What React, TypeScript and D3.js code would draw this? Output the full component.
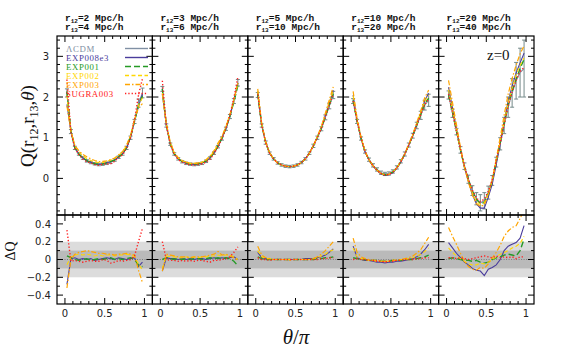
import React, { useEffect, useRef } from 'react';
import * as d3 from 'd3';

// theta/pi bin centres
const theta = [0.025, 0.075, 0.125, 0.175, 0.225, 0.275, 0.325, 0.375, 0.425, 0.475,
  0.525, 0.575, 0.625, 0.675, 0.725, 0.775, 0.825, 0.875, 0.925, 0.975];

const r12Labels = ['2', '3', '5', '10', '20'];
const r13Labels = ['4', '6', '10', '20', '40'];

// LCDM Q(theta) per panel
const qLCDM = [
  [2.1, 1.15, 0.75, 0.6, 0.5, 0.43, 0.39, 0.36, 0.34, 0.35, 0.37, 0.4, 0.45, 0.52, 0.6, 0.75, 1.0, 1.4, 1.85, 2.1],
  [2.2, 1.3, 0.84, 0.6, 0.48, 0.41, 0.37, 0.35, 0.34, 0.35, 0.37, 0.42, 0.5, 0.62, 0.78, 0.98, 1.22, 1.52, 1.9, 2.35],
  [2.05, 1.3, 0.88, 0.62, 0.48, 0.38, 0.33, 0.3, 0.29, 0.3, 0.33, 0.39, 0.48, 0.62, 0.8, 1.0, 1.22, 1.5, 1.78, 2.05],
  [1.9, 1.4, 0.98, 0.66, 0.46, 0.32, 0.22, 0.14, 0.11, 0.12, 0.17, 0.27, 0.42, 0.6, 0.82, 1.05, 1.3, 1.55, 1.8, 1.92],
  [2.05, 1.6, 1.15, 0.7, 0.3, -0.02, -0.3, -0.5, -0.6, -0.55, -0.35, -0.05, 0.4, 0.85, 1.3, 1.75, 2.1, 2.4, 2.6, 2.7],
];

const qErr = [
  [0.1, 0.05, 0.04, 0.03, 0.03, 0.03, 0.03, 0.03, 0.03, 0.03, 0.03, 0.03, 0.03, 0.03, 0.03, 0.04, 0.04, 0.05, 0.1, 0.12],
  [0.06, 0.04, 0.03, 0.03, 0.03, 0.03, 0.03, 0.03, 0.03, 0.03, 0.03, 0.03, 0.03, 0.03, 0.03, 0.04, 0.04, 0.05, 0.06, 0.08],
  [0.06, 0.04, 0.04, 0.03, 0.03, 0.03, 0.03, 0.03, 0.03, 0.03, 0.03, 0.03, 0.03, 0.03, 0.04, 0.04, 0.05, 0.06, 0.07, 0.09],
  [0.06, 0.05, 0.04, 0.04, 0.04, 0.04, 0.04, 0.04, 0.04, 0.04, 0.04, 0.04, 0.04, 0.05, 0.05, 0.06, 0.08, 0.1, 0.12, 0.15],
  [0.1, 0.1, 0.08, 0.08, 0.08, 0.1, 0.12, 0.15, 0.2, 0.2, 0.16, 0.12, 0.12, 0.15, 0.2, 0.25, 0.35, 0.45, 0.6, 0.7],
];

// Delta Q (model - LCDM) per panel
const dqEXP008e3 = [
  [-0.28, 0.01, 0.02, 0.0, 0.01, 0.0, 0.01, -0.01, 0.0, 0.01, 0.02, 0.01, 0.0, 0.02, 0.01, 0.0, 0.01, 0.02, -0.08, -0.03],
  [-0.13, 0.02, 0.01, 0.01, 0.0, 0.01, 0.0, 0.01, 0.0, 0.01, 0.01, 0.0, 0.01, 0.02, 0.01, 0.02, 0.01, 0.02, 0.03, 0.0],
  [0.08, 0.02, 0.01, 0.0, 0.0, 0.0, 0.0, 0.0, 0.0, 0.0, 0.0, 0.0, 0.01, 0.01, 0.01, 0.02, 0.03, 0.05, 0.08, 0.12],
  [0.15, 0.02, 0.0, -0.01, -0.01, -0.02, -0.03, -0.03, -0.04, -0.03, -0.03, -0.02, -0.02, -0.01, 0.0, 0.01, 0.03, 0.06, 0.11, 0.17],
  [0.19, 0.13, 0.07, 0.02, -0.03, -0.06, -0.1, -0.12, -0.13, -0.18, -0.11, -0.09, -0.06, 0.0, 0.1, 0.15, 0.17, 0.19, 0.24, 0.38],
];
const dqEXP001 = [
  [0.04, 0.02, 0.0, -0.01, 0.0, 0.01, -0.01, 0.0, 0.01, 0.0, 0.01, 0.02, 0.0, 0.01, 0.0, 0.01, 0.02, 0.0, -0.06, -0.08],
  [0.0, 0.02, 0.01, 0.0, 0.01, 0.0, 0.01, 0.0, 0.01, 0.01, 0.0, 0.01, 0.02, 0.01, 0.02, 0.01, 0.02, 0.01, -0.02, -0.07],
  [0.03, 0.01, 0.0, 0.0, 0.0, 0.0, 0.0, 0.0, 0.0, 0.0, 0.0, 0.0, 0.0, 0.0, 0.0, 0.01, 0.01, 0.02, 0.02, 0.03],
  [0.02, 0.01, 0.0, 0.0, -0.01, -0.01, -0.01, -0.02, -0.02, -0.02, -0.01, -0.01, -0.01, 0.0, 0.0, 0.0, 0.01, 0.02, 0.03, 0.05],
  [0.01, 0.02, 0.01, 0.0, -0.01, -0.01, -0.02, -0.01, -0.03, -0.04, -0.03, 0.0, 0.02, 0.03, 0.05, 0.06, 0.05, 0.04, 0.1, 0.23],
];
const dqEXP002 = [
  [-0.06, 0.03, 0.05, 0.06, 0.05, 0.06, 0.05, 0.04, 0.05, 0.04, 0.05, 0.05, 0.04, 0.05, 0.05, 0.06, 0.05, 0.03, -0.05, -0.12],
  [-0.1, 0.04, 0.03, 0.03, 0.02, 0.02, 0.03, 0.02, 0.03, 0.02, 0.03, 0.03, 0.04, 0.04, 0.05, 0.04, 0.05, 0.05, 0.03, 0.0],
  [0.1, 0.03, 0.01, 0.01, 0.0, 0.0, 0.0, 0.0, 0.0, 0.0, 0.0, 0.0, 0.0, 0.0, 0.01, 0.02, 0.04, 0.06, 0.09, 0.11],
  [0.13, 0.03, 0.01, 0.0, -0.01, -0.01, -0.02, -0.02, -0.02, -0.02, -0.01, -0.01, 0.0, 0.0, 0.01, 0.02, 0.04, 0.06, 0.09, 0.13],
  [0.13, 0.08, 0.04, 0.01, -0.02, -0.05, -0.06, -0.06, -0.04, -0.05, -0.03, 0.0, 0.03, 0.06, 0.08, 0.1, 0.13, 0.15, 0.18, 0.26],
];
const dqEXP003 = [
  [-0.32, 0.0, 0.06, 0.08, 0.09, 0.1, 0.09, 0.08, 0.07, 0.07, 0.06, 0.06, 0.05, 0.06, 0.06, 0.07, 0.06, 0.05, -0.12, -0.26],
  [-0.13, 0.06, 0.05, 0.04, 0.03, 0.03, 0.03, 0.02, 0.03, 0.03, 0.03, 0.04, 0.05, 0.06, 0.09, 0.05, 0.06, 0.04, 0.02, -0.01],
  [0.15, 0.05, 0.02, 0.01, 0.0, 0.0, 0.0, 0.0, -0.01, 0.0, 0.0, 0.0, 0.0, 0.0, 0.01, 0.03, 0.06, 0.1, 0.15, 0.2],
  [0.24, 0.08, 0.03, 0.01, 0.0, -0.01, -0.01, -0.02, -0.02, -0.02, -0.01, -0.01, 0.0, 0.01, 0.02, 0.04, 0.07, 0.11, 0.18, 0.25],
  [0.36, 0.26, 0.17, 0.07, -0.02, -0.08, -0.11, -0.12, -0.09, -0.1, -0.05, 0.02, 0.08, 0.16, 0.26, 0.32, 0.36, 0.38, 0.46, 0.56],
];
const dqSUGRA003 = [
  [0.33, -0.02, -0.01, -0.02, -0.03, -0.02, -0.01, -0.02, -0.02, 0.0, -0.01, -0.04, -0.03, -0.01, -0.02, -0.01, 0.0, 0.04, 0.2, 0.35],
  [0.2, 0.0, -0.01, -0.01, -0.02, -0.01, -0.02, -0.01, -0.02, -0.01, -0.01, -0.02, -0.03, -0.01, -0.01, 0.0, 0.01, 0.03, 0.08, 0.14],
  [0.02, 0.0, 0.0, -0.01, 0.0, 0.0, 0.0, 0.0, 0.0, 0.0, 0.0, 0.0, 0.0, 0.0, 0.0, 0.0, 0.01, 0.01, 0.02, 0.02],
  [0.0, 0.01, 0.0, 0.0, -0.01, -0.01, -0.02, -0.02, -0.03, -0.02, -0.02, -0.01, -0.01, 0.0, 0.0, 0.0, 0.01, 0.01, 0.02, 0.02],
  [0.02, 0.02, 0.01, 0.02, 0.01, 0.0, 0.01, 0.02, 0.03, 0.04, 0.03, 0.02, 0.04, 0.02, 0.03, 0.02, 0.03, 0.01, 0.03, 0.03],
];

const modelNames = ['EXP008e3', 'EXP001', 'EXP002', 'EXP003', 'SUGRA003'];
const modelSeries = [dqEXP008e3, dqEXP001, dqEXP002, dqEXP003, dqSUGRA003];
const modelColors = ['#4a3c9c', '#259a25', '#ffd700', '#ffa500', '#ff2020'];
const modelDash = [null, '6,3', '4,2.5', '5,2,1.5,2', '1.3,2'];
const modelWidth = [1.1, 1.4, 1.1, 1.2, 1.4];
const lcdmColor = '#8090a4';
const errColor = '#758a8a';

const App = () => {
  const svgRef = useRef(null);

  useEffect(() => {
    const svg = d3.select(svgRef.current);
    svg.selectAll('*').remove();

    const left = 57;
    const panelW = 95.4;
    const topY = 36, midY = 215, botY = 304;
    const serif = 'Liberation Serif, Times New Roman, serif';
    const tickFont = 'DejaVu Sans, sans-serif';

    const yTop = d3.scaleLinear().domain([-0.9, 3.5]).range([midY, topY]);
    const yBot = d3.scaleLinear().domain([-0.5, 0.5]).range([botY, midY]);

    const xMinor = d3.range(0, 11).map((i) => i * 0.1);
    const yTopMinor = d3.range(-4, 18).map((i) => i * 0.2);
    const yBotMinor = d3.range(-4, 5).map((i) => i * 0.1);
    const isInt = (v, s) => Math.abs(v / s - Math.round(v / s)) < 1e-6;

    const defs = svg.append('defs');

    r12Labels.forEach((lab, p) => {
      const x0 = left + p * panelW;
      const x1 = x0 + panelW;
      const x = d3.scaleLinear().domain([-0.1, 1.1]).range([x0, x1]);
      const g = svg.append('g');

      defs.append('clipPath').attr('id', `ct${p}`).append('rect')
        .attr('x', x0).attr('y', topY).attr('width', panelW).attr('height', midY - topY);
      defs.append('clipPath').attr('id', `cb${p}`).append('rect')
        .attr('x', x0).attr('y', midY).attr('width', panelW).attr('height', botY - midY);

      // bottom panel bands
      const bb = g.append('g').attr('clip-path', `url(#cb${p})`);
      bb.append('rect').attr('x', x0).attr('width', panelW)
        .attr('y', yBot(0.2)).attr('height', yBot(-0.2) - yBot(0.2)).attr('fill', '#dcdcdc');
      bb.append('rect').attr('x', x0).attr('width', panelW)
        .attr('y', yBot(0.1)).attr('height', yBot(-0.1) - yBot(0.1)).attr('fill', '#bababa');
      bb.append('line').attr('x1', x0).attr('x2', x1).attr('y1', yBot(0)).attr('y2', yBot(0))
        .attr('stroke', '#777').attr('stroke-width', 0.9).attr('stroke-dasharray', '1,1.5');

      const lineB = (arr) => d3.line().x((d, i) => x(theta[i])).y((d) => yBot(d))(arr);
      modelSeries.forEach((ser, m) => {
        bb.append('path').attr('d', lineB(ser[p])).attr('fill', 'none')
          .attr('stroke', modelColors[m]).attr('stroke-width', modelWidth[m])
          .attr('stroke-dasharray', modelDash[m]);
      });

      // top panel
      const tb = g.append('g').attr('clip-path', `url(#ct${p})`);
      const q = qLCDM[p];
      q.forEach((v, i) => {
        const e = qErr[p][i];
        const cx = x(theta[i]);
        tb.append('line').attr('x1', cx).attr('x2', cx).attr('y1', yTop(v - e)).attr('y2', yTop(v + e))
          .attr('stroke', errColor).attr('stroke-width', 1);
        [v - e, v + e].forEach((w) => {
          tb.append('line').attr('x1', cx - 2).attr('x2', cx + 2).attr('y1', yTop(w)).attr('y2', yTop(w))
            .attr('stroke', errColor).attr('stroke-width', 1);
        });
      });
      const lineT = d3.line().x((d, i) => x(theta[i])).y((d) => yTop(d));
      tb.append('path').attr('d', lineT(q)).attr('fill', 'none')
        .attr('stroke', lcdmColor).attr('stroke-width', 1.1);
      modelSeries.forEach((ser, m) => {
        const vals = q.map((v, i) => v + ser[p][i]);
        tb.append('path').attr('d', lineT(vals)).attr('fill', 'none')
          .attr('stroke', modelColors[m]).attr('stroke-width', modelWidth[m])
          .attr('stroke-dasharray', modelDash[m]);
      });

      // frames
      [[topY, midY], [midY, botY]].forEach(([a, b]) => {
        g.append('rect').attr('x', x0).attr('y', a).attr('width', panelW).attr('height', b - a)
          .attr('fill', 'none').attr('stroke', '#000').attr('stroke-width', 1.2);
      });

      const tick = (x1_, y1_, x2_, y2_) => g.append('line')
        .attr('x1', x1_).attr('y1', y1_).attr('x2', x2_).attr('y2', y2_)
        .attr('stroke', '#000').attr('stroke-width', 1);

      // x ticks
      xMinor.forEach((v) => {
        const len = isInt(v, 0.5) ? 6 : 3;
        const px = x(v);
        tick(px, topY, px, topY + len);
        tick(px, midY, px, midY - len);
        tick(px, midY, px, midY + len);
        tick(px, botY, px, botY - len);
      });
      // y ticks
      yTopMinor.forEach((v) => {
        const len = isInt(v, 1) ? 6 : 3;
        tick(x0, yTop(v), x0 + len, yTop(v));
        tick(x1, yTop(v), x1 - len, yTop(v));
      });
      yBotMinor.forEach((v) => {
        const len = isInt(v, 0.2) ? 6 : 3;
        tick(x0, yBot(v), x0 + len, yBot(v));
        tick(x1, yBot(v), x1 - len, yBot(v));
      });

      // x tick labels
      [0, 0.5, 1].forEach((v) => {
        svg.append('text').attr('x', x(v)).attr('y', 317).attr('text-anchor', 'middle')
          .attr('font-family', tickFont).attr('font-size', 10).attr('fill', '#222')
          .text(String(v));
      });

      // titles
      const mono = 'Liberation Mono, DejaVu Sans Mono, monospace';
      [[r12Labels[p], '12', 20.5], [r13Labels[p], '13', 30]].forEach(([val, sub, yy]) => {
        const t = svg.append('text').attr('x', x0 + 8).attr('y', yy)
          .attr('font-family', mono).attr('font-weight', 'bold').attr('font-size', 9.5).attr('fill', '#111');
        t.append('tspan').text('r');
        t.append('tspan').attr('font-size', 6).attr('dy', 2).text(sub);
        t.append('tspan').attr('dy', -2).text(`=${val} Mpc/h`);
      });
    });

    // y tick labels
    [0, 1, 2, 3].forEach((v) => {
      svg.append('text').attr('x', 46).attr('y', yTop(v) + 3.6).attr('text-anchor', 'middle')
        .attr('font-family', tickFont).attr('font-size', 10).attr('fill', '#222').text(String(v));
    });
    [0.4, 0.2, 0, -0.2, -0.4].forEach((v) => {
      svg.append('text').attr('x', 51).attr('y', yBot(v) + 3.6).attr('text-anchor', 'end')
        .attr('font-family', tickFont).attr('font-size', 10).attr('fill', '#222')
        .text(v < 0 ? `\u2212${Math.abs(v)}` : String(v));
    });

    // axis titles
    const yl = svg.append('text').attr('transform', 'translate(34,126) rotate(-90)')
      .attr('text-anchor', 'middle').attr('font-family', serif).attr('font-size', 19).attr('fill', '#111');
    yl.append('tspan').text('Q(r');
    yl.append('tspan').attr('font-size', 12).attr('dy', 4).text('12');
    yl.append('tspan').attr('dy', -4).text(',r');
    yl.append('tspan').attr('font-size', 12).attr('dy', 4).text('13');
    yl.append('tspan').attr('dy', -4).text(',');
    yl.append('tspan').attr('font-style', 'italic').text('\u03b8');
    yl.append('tspan').text(')');

    svg.append('text').attr('transform', 'translate(15,251) rotate(-90)')
      .attr('text-anchor', 'middle').attr('font-family', serif).attr('font-size', 14).attr('fill', '#111')
      .text('\u0394Q');

    const xl = svg.append('text').attr('x', 296).attr('y', 344).attr('text-anchor', 'middle')
      .attr('font-family', serif).attr('font-size', 21).attr('fill', '#111');
    xl.append('tspan').attr('font-style', 'italic').text('\u03b8');
    xl.append('tspan').text('/');
    xl.append('tspan').attr('font-style', 'italic').text('\u03c0');

    svg.append('text').attr('x', 487).attr('y', 60).attr('font-family', serif)
      .attr('font-size', 15).attr('fill', '#111').text('z=0');

    // legend
    const legNames = ['\u039bCDM', ...modelNames];
    const legColors = [lcdmColor, ...modelColors];
    const legDash = [null, ...modelDash];
    const legWidth = [1.1, ...modelWidth];
    legNames.forEach((n, i) => {
      const yy = 51.5 + i * 9;
      svg.append('text').attr('x', 66).attr('y', yy).attr('font-family', serif)
        .attr('font-size', 8.8).attr('letter-spacing', 0.6).attr('fill', legColors[i]).text(n);
      svg.append('line').attr('x1', 125).attr('x2', 148).attr('y1', yy - 3).attr('y2', yy - 3)
        .attr('stroke', legColors[i]).attr('stroke-width', legWidth[i] + 0.3)
        .attr('stroke-dasharray', legDash[i]);
    });
  }, []);

  return (
    <svg ref={svgRef} width={568} height={352}
      style={{ position: 'absolute', left: 0, top: 0, background: '#fff', display: 'block' }} />
  );
};

export default App;
